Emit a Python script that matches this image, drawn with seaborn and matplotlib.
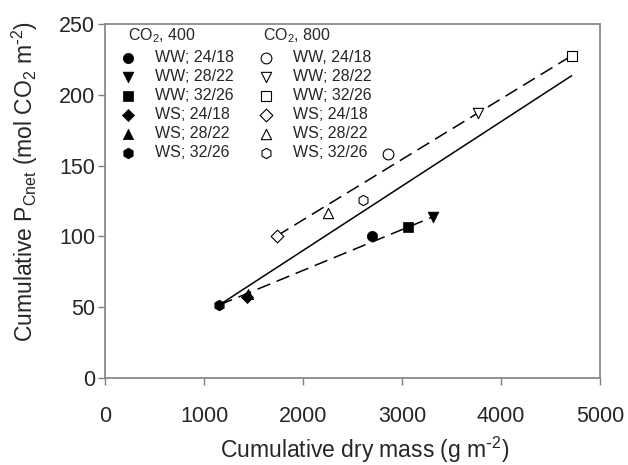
import matplotlib
matplotlib.use("Agg")
import matplotlib.pyplot as plt
import seaborn as sns
import numpy as np

# ---- data ----
labels_400 = ['WW; 24/18', 'WW; 28/22', 'WW; 32/26', 'WS; 24/18', 'WS; 28/22', 'WS; 32/26']
labels_800 = ['WW, 24/18', 'WW; 28/22', 'WW; 32/26', 'WS; 24/18', 'WS; 28/22', 'WS; 32/26']
marker_list = ['o', 'v', 's', 'D', '^', 'h']

drymass_400 = [2694, 3316, 3057, 1431, 1440, 1155]
pcnet_400 = [100.3, 113.9, 106.4, 57.4, 59.0, 51.6]
drymass_800 = [2862, 3765, 4714, 1734, 2256, 2603]
pcnet_800 = [158.2, 186.9, 227.6, 100.3, 116.7, 125.7]

# regression lines
fit_all_x = [1155, 4714]
fit_all_y = [51.6, 213.5]
fit_800_x = [1734, 4714]
fit_800_y = [100.3, 227.6]
fit_400_x = [1155, 3316]
fit_400_y = [51.6, 113.9]

xticks = [0, 1000, 2000, 3000, 4000, 5000]
yticks = [0, 50, 100, 150, 200, 250]

# ---- style ----
sns.set_style("white")
plt.rcParams['font.family'] = ['Liberation Sans', 'DejaVu Sans']
plt.rcParams['mathtext.default'] = 'regular'

fig = plt.figure(figsize=(6.28, 4.65), dpi=100)
ax = fig.add_axes([105/628, 1-378/465, 495/628, 354/465])

spine_col = '#808080'
for sp in ax.spines.values():
    sp.set_color(spine_col)
    sp.set_linewidth(1.2)

# lines
sns.lineplot(x=fit_all_x, y=fit_all_y, ax=ax, color='black', lw=1.1, zorder=2)
sns.lineplot(x=fit_800_x, y=fit_800_y, ax=ax, color='black', lw=1.1,
             linestyle=(0, (9, 4.5)), zorder=2)
sns.lineplot(x=fit_400_x, y=fit_400_y, ax=ax, color='black', lw=1.1,
             linestyle=(0, (9, 4.5)), zorder=2)

sizes_filled = {'o': 55, 'v': 60, 's': 45, 'D': 38, '^': 55, 'h': 60}
sizes_open = {'o': 60, 'v': 55, 's': 50, 'D': 42, '^': 55, 'h': 55}

for x, y, m, lab in zip(drymass_400, pcnet_400, marker_list, labels_400):
    sns.scatterplot(x=[x], y=[y], ax=ax, marker=m, s=sizes_filled[m], color='black',
                    edgecolor='black', linewidth=0.5, label=lab,
                    zorder=2.5 if m == '^' else 3)
for x, y, m, lab in zip(drymass_800, pcnet_800, marker_list, labels_800):
    sns.scatterplot(x=[x], y=[y], ax=ax, marker=m, s=sizes_open[m], facecolors='white',
                    edgecolors='black', linewidth=0.8, label=lab, zorder=3)

ax.set_xlim(0, 5000)
ax.set_ylim(0, 250)
ax.set_xticks(xticks)
ax.set_yticks(yticks)
ax.tick_params(axis='x', bottom=True, direction='out', length=5, width=1, color=spine_col,
               pad=15, labelsize=15.5)
ax.tick_params(axis='y', left=True, direction='out', length=5, width=1, color=spine_col,
               pad=2, labelsize=15.5)

ax.set_xlabel(r'Cumulative dry mass (g m$^{\text{-}2}$)', fontsize=16.5)
ax.set_ylabel(r'Cumulative P$_{Cnet}$ (mol CO$_{2}$ m$^{\text{-}2}$)', fontsize=16.5)
ax.xaxis.set_label_coords(0.525, -0.16)
ax.yaxis.set_label_coords(-0.131, 0.554)

leg = ax.legend(ncol=2, loc='upper left', bbox_to_anchor=(0.03, 0.927), frameon=False,
                fontsize=11.5, handlelength=1.0, handletextpad=1.2, columnspacing=1.5,
                labelspacing=0.25, borderpad=0, borderaxespad=0)

ax.text(0.046, 0.966, 'CO$_{2}$, 400', transform=ax.transAxes, fontsize=11.5,
        ha='left', va='center')
ax.text(0.319, 0.966, 'CO$_{2}$, 800', transform=ax.transAxes, fontsize=11.5,
        ha='left', va='center')

fig.savefig('out.png', dpi=100)
